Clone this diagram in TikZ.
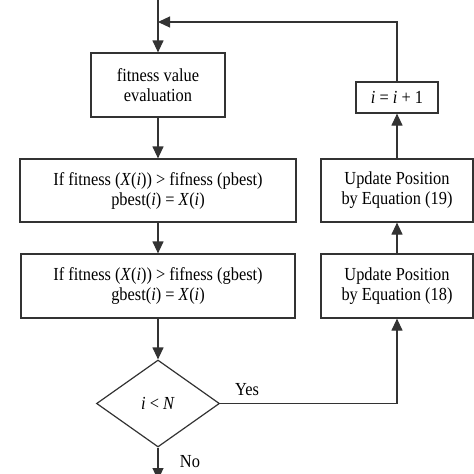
\documentclass[tikz,border=0pt]{standalone}
\usepackage{fontspec}
\setmainfont{Liberation Serif}[FakeStretch=0.89]
\usepackage{tikz}
\usetikzlibrary{arrows.meta,shapes.geometric}

\begin{document}
\begin{tikzpicture}[x=1pt,y=-1pt,->,>={Triangle[length=12pt,width=11pt]},
                    line width=1.2pt,draw=black!80,node distance=95.5pt,
                    font=\fontsize{18.4}{20}\selectfont,
                    box node/.style={rectangle,draw,align=center,inner sep=0pt},
                    test node/.style={diamond,draw,aspect=1.41,minimum width=123pt,
                                      minimum height=87pt,inner sep=0pt}]
\useasboundingbox (0,0) rectangle (474,474);

\node[box node,minimum width=134pt,minimum height=64pt] (eval) at (158,85)
     {fitness value\\evaluation};
\node[box node,minimum width=276pt,minimum height=63pt] (pb) [below of=eval,node distance=105.5pt]
     {If fitness (\textit{X}(\textit{i})) > fifness (pbest)\\pbest(\textit{i}) = \textit{X}(\textit{i})};
\node[box node,minimum width=274pt,minimum height=64pt] (gb) [below of=pb]
     {If fitness (\textit{X}(\textit{i})) > fifness (gbest)\\gbest(\textit{i}) = \textit{X}(\textit{i})};
\node[test node] (dec) [below of=gb,node distance=117.5pt] {\textit{i} < \textit{N}};

\node[box node,minimum width=152pt,minimum height=64pt] (u18) at (397,286)
     {Update Position\\by Equation (18)};
\node[box node,minimum width=152pt,minimum height=63pt] (u19) [above of=u18]
     {Update Position\\by Equation (19)};
\node[box node,minimum width=82pt,minimum height=31pt] (inc) [above of=u19,node distance=93pt]
     {\textit{i} = \textit{i} + 1};

\coordinate (start) at (158,0);
\coordinate (join) at (158,22);
\coordinate (end) at (158,480);

\draw (start) -- (eval);
\draw (inc) |- (join);
\draw (dec.east) -| node[pos=0.076,above,yshift=4pt] {Yes} (u18);

\path
(eval) edge (pb)
(pb) edge (gb)
(gb) edge (dec)
(dec) edge node[pos=0.42,right,xshift=18pt] {No} (end)
(u18) edge (u19)
(u19) edge (inc);
\end{tikzpicture}
\end{document}
